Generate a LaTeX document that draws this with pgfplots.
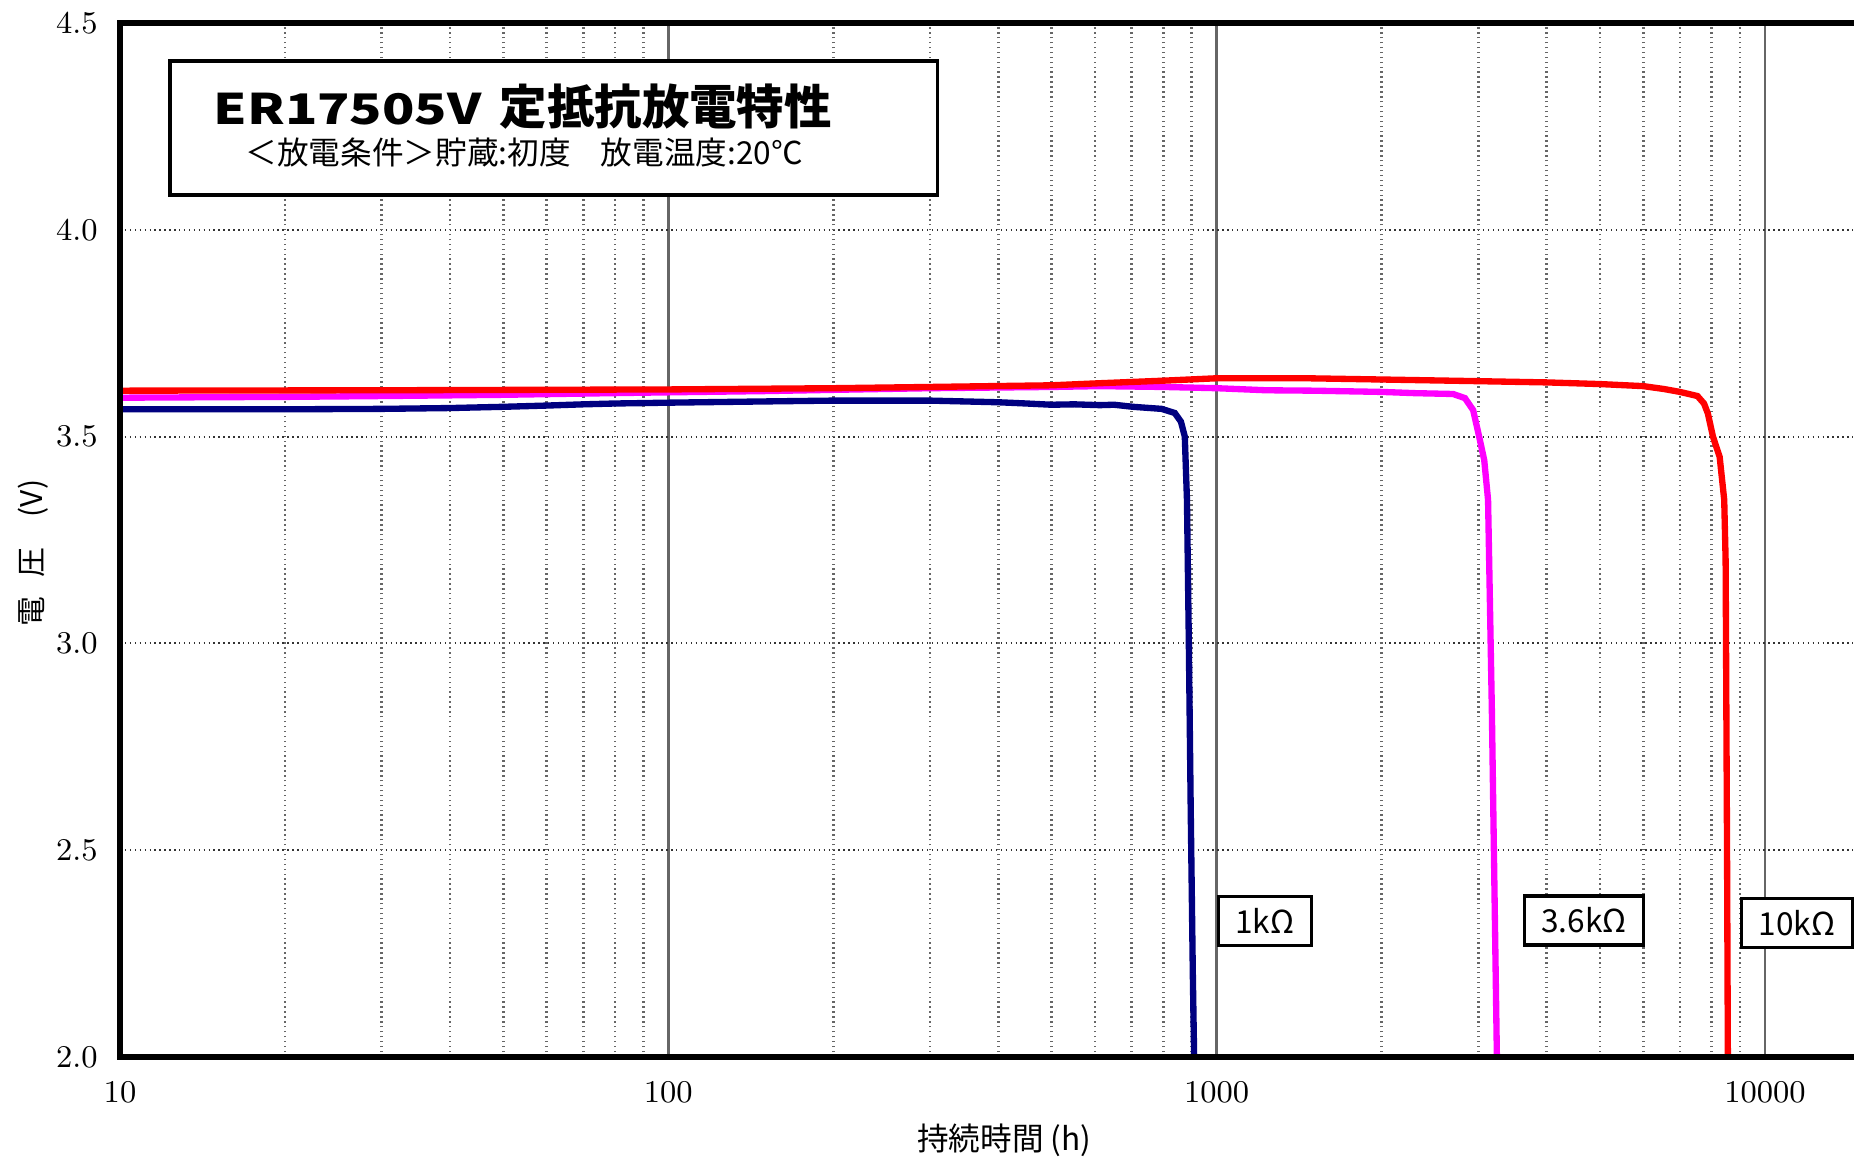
\documentclass[border=0pt]{standalone}
\usepackage{fontspec}
\usepackage{graphicx}
\usepackage{pgfplots}
\pgfplotsset{compat=1.18}
\newfontfamily\jp{Noto Sans CJK JP}
\definecolor{navyline}{HTML}{000080}
\definecolor{magline}{HTML}{FF00FF}
\definecolor{redline}{HTML}{FF0000}
\begin{document}
\begin{tikzpicture}
\begin{axis}[
  at={(0,0)}, anchor=south west,
  scale only axis, width=17.34cm, height=10.34cm,
  xmode=log, log basis x=10,
  xmin=10, xmax=14540, ymin=2, ymax=4.5,
  xtick={10,100,1000,10000}, xticklabels={10,100,1000,10000},
  extra x ticks={20,30,40,50,60,70,80,90,200,300,400,500,600,700,800,900,2000,3000,4000,5000,6000,7000,8000,9000},
  extra x tick labels={},
  extra x tick style={grid=major, major grid style={black!80, densely dotted, line width=0.6pt}},
  ytick={2,2.5,3,3.5,4,4.5}, yticklabels={2.0,2.5,3.0,3.5,4.0,4.5},
  xmajorgrids, ymajorgrids,
  major x grid style={black!60, line width=0.75pt},
  major y grid style={black!80, densely dotted, line width=0.6pt},
  tick style={draw=none},
  axis line style={draw=none},
  clip mode=individual,
  tick label style={font=\fontsize{9}{10}\selectfont},
  /pgf/number format/assume math mode=true,
  xticklabel style={yshift=-0.12cm},
  yticklabel style={xshift=-0.1cm},
]
\addplot[navyline, line width=1.8pt] coordinates {
(10,3.566) (15,3.566) (20,3.566) (30,3.567) (40,3.569) (50,3.572) (60,3.575) (70,3.578) (80,3.580) (100,3.582) (150,3.585) (200,3.587) (300,3.587) (400,3.583) (450,3.580) (500,3.577) (550,3.578) (612,3.576) (650,3.577) (704,3.572) (794,3.567) (839,3.557) (861,3.536) (875,3.50) (883,3.347) (890,3.0) (897,2.6) (905,2.2) (910,2.0)
};
\addplot[magline, line width=1.8pt] coordinates {
(10,3.594) (20,3.596) (30,3.598) (50,3.601) (70,3.604) (100,3.607) (150,3.610) (200,3.613) (300,3.617) (500,3.620) (612,3.622) (800,3.620) (1000,3.617) (1231,3.612) (1500,3.611) (2000,3.608) (2302,3.605) (2699,3.603) (2838,3.593) (2937,3.564) (3012,3.50) (3077,3.443) (3127,3.347) (3177,2.84) (3245,2.0)
};
\addplot[redline, line width=1.8pt] coordinates {
(10,3.611) (30,3.612) (100,3.614) (200,3.617) (300,3.620) (500,3.624) (612,3.629) (794,3.635) (1000,3.641) (1462,3.641) (2000,3.638) (3000,3.634) (4000,3.631) (5000,3.627) (6000,3.622) (6546,3.615) (7000,3.608) (7535,3.598) (7745,3.580) (7870,3.556) (8040,3.50) (8270,3.451) (8430,3.347) (8480,3.2) (8530,2.5) (8560,2.0)
};
\draw[line width=1.8pt] (rel axis cs:1,1) -- (rel axis cs:0,1) -- (rel axis cs:0,0) -- (rel axis cs:1,0);
\draw[line width=0.9pt, fill=white] (rel axis cs:0.0288,0.9632) rectangle (rel axis cs:0.4712,0.8337);
\node[anchor=base west, inner sep=0pt, font=\jp\bfseries\fontsize{13.5}{16}\selectfont] at (rel axis cs:0.0536,0.902) {\resizebox{2.68cm}{\height}{\fontsize{12}{14}\selectfont ER17505V}\hspace{0.18cm}定抵抗放電特性};
\node[anchor=base west, inner sep=0pt, font=\jp\fontsize{9}{11}\selectfont] at (rel axis cs:0.0721,0.8627) {＜放電条件＞貯蔵:初度\hspace{0.3cm}放電温度:20℃};
\node[draw, fill=white, line width=0.9pt, font=\jp\fontsize{9}{10}\selectfont, minimum height=0.44cm, inner xsep=0.17cm] at (axis cs:1225,2.329) {1kΩ};
\node[draw, fill=white, line width=0.9pt, font=\jp\fontsize{9}{10}\selectfont, minimum height=0.44cm, inner xsep=0.17cm] at (axis cs:4677,2.33) {3.6kΩ};
\node[draw, fill=white, line width=0.9pt, font=\jp\fontsize{9}{10}\selectfont, minimum height=0.44cm, inner xsep=0.17cm] at (axis cs:11440,2.323) {10kΩ};
\node[rotate=90, font=\jp\fontsize{8.5}{10}\selectfont] at (rel axis cs:-0.0502,0.487) {電\hspace{0.2cm}圧\hspace{0.3cm}(V)};
\node[font=\jp\fontsize{9}{10}\selectfont] at (rel axis cs:0.510,-0.0803) {持続時間 (h)};
\end{axis}
\pgfresetboundingbox
\path[use as bounding box] (-1.2,-1.01) rectangle (17.34,10.57);
\end{tikzpicture}
\end{document}
